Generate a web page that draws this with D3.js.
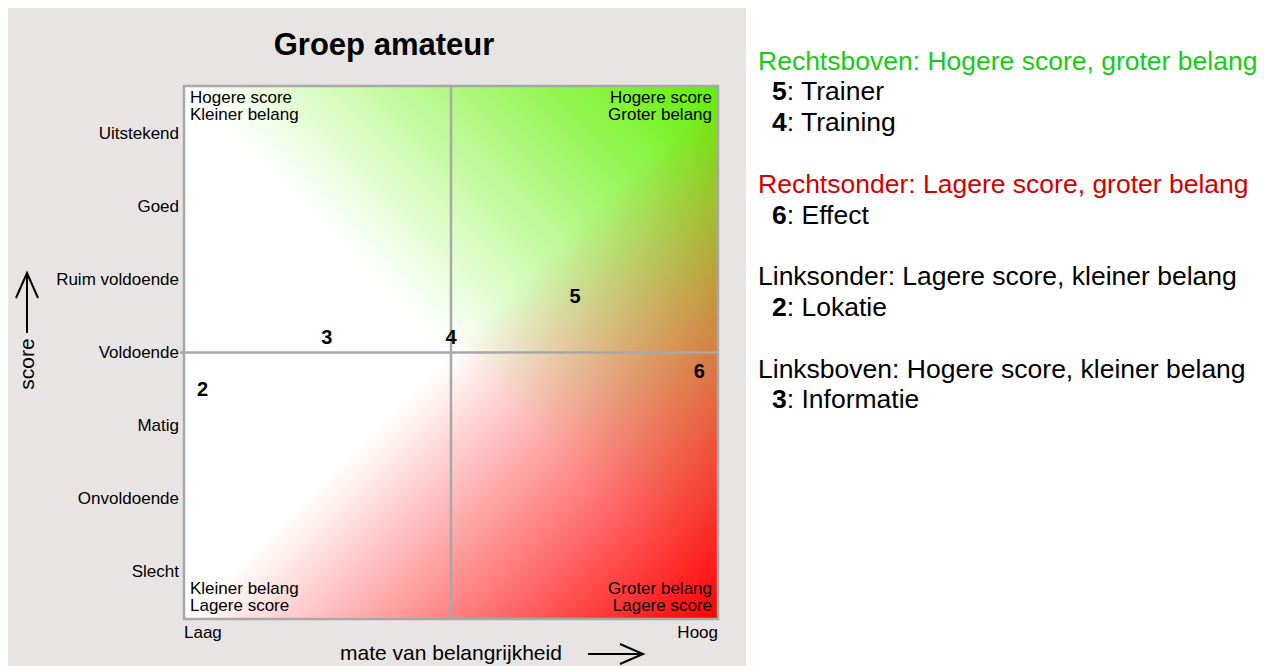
<!DOCTYPE html>
<html>
<head>
<meta charset="utf-8">
<script src="https://cdn.jsdelivr.net/npm/d3@7"></script>
<style>
  body { margin: 0; background: #fff; }
  text { font-family: "Liberation Sans", Arial, sans-serif; }
</style>
</head>
<body>
<script>
// data
var scoreLabels = ["Slecht", "Onvoldoende", "Matig", "Voldoende", "Ruim voldoende", "Goed", "Uitstekend"];
var itemIds = [2, 3, 4, 5, 6];
var itemNames = ["Lokatie", "Informatie", "Training", "Trainer", "Effect"];
var importance = [1, 2, 3, 4, 5];
var scores = [3.5, 4.21, 4.21, 4.77, 3.75];

var quadrantTitles = [
  "Rechtsboven: Hogere score, groter belang",
  "Rechtsonder: Lagere score, groter belang",
  "Linksonder: Lagere score, kleiner belang",
  "Linksboven: Hogere score, kleiner belang"
];
var quadrantColors = ["#16cc16", "#d40000", "#000", "#000"];
var quadrantItems = [[5, 4], [6], [2], [3]];

var svg = d3.select("body")
  .append("svg")
    .attr("width", 1264)
    .attr("height", 666)

// gray panel
svg.append("rect").attr("x", 8).attr("y", 8).attr("width", 738).attr("height", 658).style("fill", "#e8e4e3")

var pLeft = 184, pRight = 718, pTop = 86, pBottom = 619
var x = d3.scaleLinear().domain([0.85, 5.15]).range([pLeft, pRight])
var y = d3.scaleLinear().domain([0.35, 7.65]).range([pBottom, pTop])

// gradients
var defs = svg.append("defs")
var gg = defs.append("linearGradient").attr("id", "gGreen").attr("x1", 0).attr("y1", 1).attr("x2", 1).attr("y2", 0)
gg.append("stop").attr("offset", 0.5).attr("stop-color", "#60f000").attr("stop-opacity", 0)
gg.append("stop").attr("offset", 1).attr("stop-color", "#60f000").attr("stop-opacity", 1)
var gr = defs.append("linearGradient").attr("id", "gRed").attr("x1", 0).attr("y1", 0).attr("x2", 1).attr("y2", 1)
gr.append("stop").attr("offset", 0.5).attr("stop-color", "#ff0000").attr("stop-opacity", 0)
gr.append("stop").attr("offset", 1).attr("stop-color", "#ff0000").attr("stop-opacity", 1)

;["#fff", "url(#gGreen)", "url(#gRed)"].forEach(function (f) {
  svg.append("rect").attr("x", pLeft).attr("y", pTop).attr("width", pRight - pLeft).attr("height", pBottom - pTop).style("fill", f)
})

// mid lines + border
svg.append("line").attr("x1", pLeft - 4).attr("x2", pRight).attr("y1", y(4)).attr("y2", y(4)).style("stroke", "#a8a8a8").style("stroke-width", 2.5)
svg.append("line").attr("x1", x(3)).attr("x2", x(3)).attr("y1", pTop).attr("y2", pBottom).style("stroke", "#a8a8a8").style("stroke-width", 2.5)
svg.append("rect").attr("x", pLeft).attr("y", pTop).attr("width", pRight - pLeft).attr("height", pBottom - pTop)
  .style("fill", "none").style("stroke", "#a8a8a8").style("stroke-width", 2.5)

// title
svg.append("text").attr("x", 384).attr("y", 55).attr("text-anchor", "middle").text("Groep amateur")
  .style("font-size", "31px").style("font-weight", "bold")

// y tick labels
svg.selectAll(".ytick").data(scoreLabels).enter().append("text")
  .attr("x", pLeft - 5).attr("y", function (d, i) { return y(i + 1) }).attr("dy", "0.35em")
  .attr("text-anchor", "end").style("font-size", "17px").text(function (d) { return d })

// corner labels
var corner = [
  ["Hogere score", "Kleiner belang", pLeft + 6, 103, "start"],
  ["Hogere score", "Groter belang", pRight - 6, 103, "end"],
  ["Kleiner belang", "Lagere score", pLeft + 6, 594, "start"],
  ["Groter belang", "Lagere score", pRight - 6, 594, "end"]
]
corner.forEach(function (c) {
  svg.append("text").attr("x", c[2]).attr("y", c[3]).attr("text-anchor", c[4]).style("font-size", "17px").text(c[0])
  svg.append("text").attr("x", c[2]).attr("y", c[3] + 16.5).attr("text-anchor", c[4]).style("font-size", "17px").text(c[1])
})

// x labels
svg.append("text").attr("x", pLeft).attr("y", 638).style("font-size", "17px").text("Laag")
svg.append("text").attr("x", pRight).attr("y", 638).attr("text-anchor", "end").style("font-size", "17px").text("Hoog")
svg.append("text").attr("x", 451).attr("y", 660).attr("text-anchor", "middle").style("font-size", "21px").text("mate van belangrijkheid")
svg.append("path").attr("d", "M588,654H643M620,644L643,654L620,664").style("fill", "none").style("stroke", "#000").style("stroke-width", 2)

// y axis title
svg.append("text").attr("transform", "translate(34,364) rotate(-90)").attr("text-anchor", "middle").style("font-size", "21px").text("score")
svg.append("path").attr("d", "M27,333V273M16,298L27,273L38,298").style("fill", "none").style("stroke", "#000").style("stroke-width", 2)

// points
svg.selectAll(".pt").data(itemIds).enter().append("text")
  .attr("x", function (d, i) { return x(importance[i]) })
  .attr("y", function (d, i) { return y(scores[i]) })
  .attr("dy", "0.36em").attr("text-anchor", "middle")
  .style("font-size", "20px").style("font-weight", "bold")
  .text(function (d) { return d })

// legend
var line = 0, lh = 30.8
quadrantTitles.forEach(function (t, q) {
  svg.append("text").attr("x", 758).attr("y", 69.5 + line * lh).style("font-size", "26.5px").style("fill", quadrantColors[q]).text(t)
  line++
  quadrantItems[q].forEach(function (id) {
    var k = itemIds.indexOf(id)
    var tx = svg.append("text").attr("x", 772).attr("y", 69.5 + line * lh).style("font-size", "26.5px")
    tx.append("tspan").style("font-weight", "bold").text(id)
    tx.append("tspan").text(": " + itemNames[k])
    line++
  })
  line++
})
</script>
</body>
</html>
